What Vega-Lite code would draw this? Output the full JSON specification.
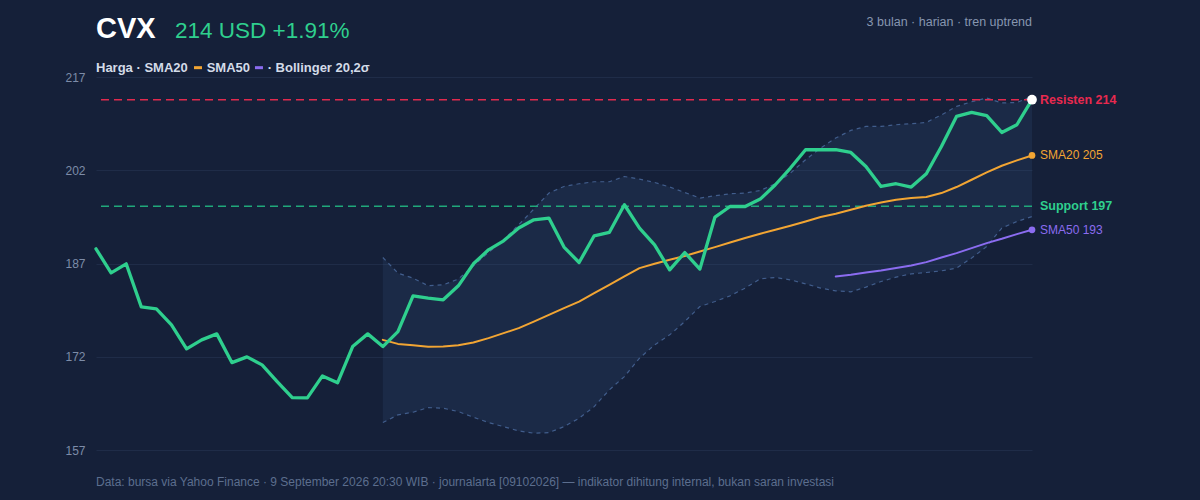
{
  "$schema": "https://vega.github.io/schema/vega-lite/v6.json",
  "width": 936,
  "height": 373,
  "autosize": {"type": "none"},
  "padding": {"left": 96, "top": 77, "right": 168, "bottom": 50},
  "background": "#152039",
  "config": {
    "view": {"stroke": null},
    "font": "Liberation Sans",
    "text": {"font": "Liberation Sans"},
    "line": {"strokeJoin": "round", "strokeCap": "round"},
    "axisY": {
      "domain": false, "ticks": false, "grid": true, "gridColor": "#1f2c48", "gridWidth": 1,
      "labelColor": "#7d8ca8", "labelFontSize": 12, "labelPadding": 11, "labelFont": "Liberation Sans"
    }
  },
  "data": {
    "values": [
      {"i": 0, "price": 189.36, "sma20": null, "upper": null, "lower": null, "sma50": null},
      {"i": 1, "price": 185.5, "sma20": null, "upper": null, "lower": null, "sma50": null},
      {"i": 2, "price": 186.95, "sma20": null, "upper": null, "lower": null, "sma50": null},
      {"i": 3, "price": 180.03, "sma20": null, "upper": null, "lower": null, "sma50": null},
      {"i": 4, "price": 179.7, "sma20": null, "upper": null, "lower": null, "sma50": null},
      {"i": 5, "price": 177.13, "sma20": null, "upper": null, "lower": null, "sma50": null},
      {"i": 6, "price": 173.27, "sma20": null, "upper": null, "lower": null, "sma50": null},
      {"i": 7, "price": 174.72, "sma20": null, "upper": null, "lower": null, "sma50": null},
      {"i": 8, "price": 175.68, "sma20": null, "upper": null, "lower": null, "sma50": null},
      {"i": 9, "price": 171.06, "sma20": null, "upper": null, "lower": null, "sma50": null},
      {"i": 10, "price": 171.98, "sma20": null, "upper": null, "lower": null, "sma50": null},
      {"i": 11, "price": 170.69, "sma20": null, "upper": null, "lower": null, "sma50": null},
      {"i": 12, "price": 168.01, "sma20": null, "upper": null, "lower": null, "sma50": null},
      {"i": 13, "price": 165.43, "sma20": null, "upper": null, "lower": null, "sma50": null},
      {"i": 14, "price": 165.38, "sma20": null, "upper": null, "lower": null, "sma50": null},
      {"i": 15, "price": 168.92, "sma20": null, "upper": null, "lower": null, "sma50": null},
      {"i": 16, "price": 167.8, "sma20": null, "upper": null, "lower": null, "sma50": null},
      {"i": 17, "price": 173.64, "sma20": null, "upper": null, "lower": null, "sma50": null},
      {"i": 18, "price": 175.68, "sma20": null, "upper": null, "lower": null, "sma50": null},
      {"i": 19, "price": 173.64, "sma20": 174.72, "upper": 187.96, "lower": 161.41, "sma50": null},
      {"i": 20, "price": 176.05, "sma20": 174.07, "upper": 185.45, "lower": 162.65, "sma50": null},
      {"i": 21, "price": 181.8, "sma20": 173.86, "upper": 184.65, "lower": 163.08, "sma50": null},
      {"i": 22, "price": 181.43, "sma20": 173.59, "upper": 183.41, "lower": 163.82, "sma50": null},
      {"i": 23, "price": 181.16, "sma20": 173.64, "upper": 183.57, "lower": 163.72, "sma50": null},
      {"i": 24, "price": 183.41, "sma20": 173.86, "upper": 184.49, "lower": 163.18, "sma50": null},
      {"i": 25, "price": 186.95, "sma20": 174.28, "upper": 186.63, "lower": 162.28, "sma50": null},
      {"i": 26, "price": 189.2, "sma20": 174.99, "upper": 188.77, "lower": 161.41, "sma50": null},
      {"i": 27, "price": 190.65, "sma20": 175.8, "upper": 190.81, "lower": 160.76, "sma50": null},
      {"i": 28, "price": 192.7, "sma20": 176.6, "upper": 193.23, "lower": 160.07, "sma50": null},
      {"i": 29, "price": 194.03, "sma20": 177.66, "upper": 195.75, "lower": 159.7, "sma50": null},
      {"i": 30, "price": 194.31, "sma20": 178.74, "upper": 198.33, "lower": 159.8, "sma50": null},
      {"i": 31, "price": 189.64, "sma20": 179.82, "upper": 199.39, "lower": 160.76, "sma50": null},
      {"i": 32, "price": 187.16, "sma20": 180.88, "upper": 199.83, "lower": 162.11, "sma50": null},
      {"i": 33, "price": 191.46, "sma20": 182.23, "upper": 200.15, "lower": 163.98, "sma50": null},
      {"i": 34, "price": 191.99, "sma20": 183.57, "upper": 200.15, "lower": 166.67, "sma50": null},
      {"i": 35, "price": 196.45, "sma20": 184.91, "upper": 201.0, "lower": 168.81, "sma50": null},
      {"i": 36, "price": 192.7, "sma20": 186.26, "upper": 200.58, "lower": 171.77, "sma50": null},
      {"i": 37, "price": 190.01, "sma20": 186.95, "upper": 200.04, "lower": 173.91, "sma50": null},
      {"i": 38, "price": 185.98, "sma20": 187.59, "upper": 199.3, "lower": 175.52, "sma50": null},
      {"i": 39, "price": 188.77, "sma20": 188.2, "upper": 198.43, "lower": 177.66, "sma50": null},
      {"i": 40, "price": 186.1, "sma20": 188.93, "upper": 197.52, "lower": 180.08, "sma50": null},
      {"i": 41, "price": 194.47, "sma20": 189.64, "upper": 197.9, "lower": 180.88, "sma50": null},
      {"i": 42, "price": 196.17, "sma20": 190.38, "upper": 198.22, "lower": 181.8, "sma50": null},
      {"i": 43, "price": 196.17, "sma20": 191.09, "upper": 198.33, "lower": 183.04, "sma50": null},
      {"i": 44, "price": 197.36, "sma20": 191.78, "upper": 198.75, "lower": 184.54, "sma50": null},
      {"i": 45, "price": 199.67, "sma20": 192.42, "upper": 199.83, "lower": 184.75, "sma50": null},
      {"i": 46, "price": 202.35, "sma20": 193.07, "upper": 201.55, "lower": 184.37, "sma50": null},
      {"i": 47, "price": 205.3, "sma20": 193.76, "upper": 203.69, "lower": 183.73, "sma50": null},
      {"i": 48, "price": 205.3, "sma20": 194.47, "upper": 205.57, "lower": 183.04, "sma50": null},
      {"i": 49, "price": 205.3, "sma20": 195.0, "upper": 207.18, "lower": 182.6, "sma50": 184.91},
      {"i": 50, "price": 204.86, "sma20": 195.64, "upper": 208.41, "lower": 182.44, "sma50": 185.18},
      {"i": 51, "price": 202.61, "sma20": 196.29, "upper": 209.05, "lower": 183.2, "sma50": 185.55},
      {"i": 52, "price": 199.39, "sma20": 196.82, "upper": 209.05, "lower": 184.1, "sma50": 185.87},
      {"i": 53, "price": 199.83, "sma20": 197.25, "upper": 209.32, "lower": 184.81, "sma50": 186.26},
      {"i": 54, "price": 199.3, "sma20": 197.52, "upper": 209.48, "lower": 185.34, "sma50": 186.68},
      {"i": 55, "price": 201.44, "sma20": 197.69, "upper": 209.69, "lower": 185.55, "sma50": 187.22},
      {"i": 56, "price": 205.83, "sma20": 198.33, "upper": 210.9, "lower": 185.82, "sma50": 187.96},
      {"i": 57, "price": 210.66, "sma20": 199.3, "upper": 212.27, "lower": 186.26, "sma50": 188.67},
      {"i": 58, "price": 211.3, "sma20": 200.47, "upper": 213.02, "lower": 187.87, "sma50": 189.48},
      {"i": 59, "price": 210.77, "sma20": 201.65, "upper": 213.62, "lower": 189.74, "sma50": 190.28},
      {"i": 60, "price": 208.08, "sma20": 202.72, "upper": 212.82, "lower": 192.7, "sma50": 190.97},
      {"i": 61, "price": 209.32, "sma20": 203.58, "upper": 212.91, "lower": 193.76, "sma50": 191.73},
      {"i": 62, "price": 213.35, "sma20": 204.38, "upper": 213.88, "lower": 194.56, "sma50": 192.42}
    ]
  },
  "layer": [
    {
      "mark": {"type": "line", "opacity": 0},
      "encoding": {
        "x": {"field": "i", "type": "quantitative", "scale": {"domain": [0, 62], "nice": false, "zero": false}, "axis": null},
        "y": {
          "field": "price", "type": "quantitative", "title": null,
          "scale": {"domain": [157, 217], "nice": false, "zero": false},
          "axis": {"values": [157, 172, 187, 202, 217], "title": null}
        }
      }
    },
    {
      "mark": {"type": "area", "color": "#385784", "opacity": 0.2},
      "encoding": {
        "x": {"field": "i", "type": "quantitative", "axis": null},
        "y": {"field": "lower", "type": "quantitative", "title": null},
        "y2": {"field": "upper"}
      }
    },
    {
      "mark": {"type": "line", "color": "#415d8c", "strokeWidth": 1.2, "strokeDash": [4, 4], "strokeCap": "butt"},
      "encoding": {
        "x": {"field": "i", "type": "quantitative", "axis": null},
        "y": {"field": "upper", "type": "quantitative", "title": null}
      }
    },
    {
      "mark": {"type": "line", "color": "#415d8c", "strokeWidth": 1.2, "strokeDash": [4, 4], "strokeCap": "butt"},
      "encoding": {
        "x": {"field": "i", "type": "quantitative", "axis": null},
        "y": {"field": "lower", "type": "quantitative", "title": null}
      }
    },
    {
      "data": {"values": [{}]},
      "mark": {"type": "rule", "color": "#e02a4e", "strokeWidth": 1.6, "strokeDash": [8, 5]},
      "encoding": {"y": {"datum": 213.35, "type": "quantitative", "title": null}}
    },
    {
      "data": {"values": [{}]},
      "mark": {"type": "rule", "color": "#20a87b", "strokeWidth": 1.6, "strokeDash": [8, 5]},
      "encoding": {"y": {"datum": 196.2, "type": "quantitative", "title": null}}
    },
    {
      "mark": {"type": "line", "color": "#8b6cf0", "strokeWidth": 2},
      "encoding": {
        "x": {"field": "i", "type": "quantitative", "axis": null},
        "y": {"field": "sma50", "type": "quantitative", "title": null}
      }
    },
    {
      "mark": {"type": "line", "color": "#f2a533", "strokeWidth": 2},
      "encoding": {
        "x": {"field": "i", "type": "quantitative", "axis": null},
        "y": {"field": "sma20", "type": "quantitative", "title": null}
      }
    },
    {
      "mark": {"type": "line", "color": "#2fcf8e", "strokeWidth": 3.3},
      "encoding": {
        "x": {"field": "i", "type": "quantitative", "axis": null},
        "y": {"field": "price", "type": "quantitative", "title": null}
      }
    },
    {
      "transform": [{"filter": "datum.i == 62"}],
      "mark": {"type": "point", "filled": true, "opacity": 1, "color": "#8b6cf0", "size": 45},
      "encoding": {
        "x": {"field": "i", "type": "quantitative", "axis": null},
        "y": {"field": "sma50", "type": "quantitative", "title": null}
      }
    },
    {
      "transform": [{"filter": "datum.i == 62"}],
      "mark": {"type": "point", "filled": true, "opacity": 1, "color": "#f2a533", "size": 45},
      "encoding": {
        "x": {"field": "i", "type": "quantitative", "axis": null},
        "y": {"field": "sma20", "type": "quantitative", "title": null}
      }
    },
    {
      "transform": [{"filter": "datum.i == 62"}],
      "mark": {"type": "point", "filled": true, "opacity": 1, "color": "#ffffff", "size": 95},
      "encoding": {
        "x": {"field": "i", "type": "quantitative", "axis": null},
        "y": {"field": "price", "type": "quantitative", "title": null}
      }
    },
    {
      "data": {"values": [{}]},
      "mark": {"type": "text", "align": "left", "baseline": "middle", "dx": 8, "fontSize": 12.5, "fontWeight": "bold", "color": "#e8294f"},
      "encoding": {
        "x": {"datum": 62, "type": "quantitative", "axis": null},
        "y": {"datum": 213.35, "type": "quantitative", "title": null},
        "text": {"value": "Resisten 214"}
      }
    },
    {
      "data": {"values": [{}]},
      "mark": {"type": "text", "align": "left", "baseline": "middle", "dx": 8, "fontSize": 12, "color": "#f2a533"},
      "encoding": {
        "x": {"datum": 62, "type": "quantitative", "axis": null},
        "y": {"datum": 204.38, "type": "quantitative", "title": null},
        "text": {"value": "SMA20 205"}
      }
    },
    {
      "data": {"values": [{}]},
      "mark": {"type": "text", "align": "left", "baseline": "middle", "dx": 8, "fontSize": 12.5, "fontWeight": "bold", "color": "#2fcf8e"},
      "encoding": {
        "x": {"datum": 62, "type": "quantitative", "axis": null},
        "y": {"datum": 196.2, "type": "quantitative", "title": null},
        "text": {"value": "Support 197"}
      }
    },
    {
      "data": {"values": [{}]},
      "mark": {"type": "text", "align": "left", "baseline": "middle", "dx": 8, "fontSize": 12, "color": "#8b6cf0"},
      "encoding": {
        "x": {"datum": 62, "type": "quantitative", "axis": null},
        "y": {"datum": 192.42, "type": "quantitative", "title": null},
        "text": {"value": "SMA50 193"}
      }
    },
    {
      "data": {"values": [{}]},
      "mark": {"type": "text", "align": "left", "baseline": "alphabetic", "fontSize": 29, "fontWeight": "bold", "color": "#ffffff"},
      "encoding": {
        "x": {"datum": 0, "type": "quantitative", "axis": null},
        "y": {"datum": 223.27, "type": "quantitative", "title": null},
        "text": {"value": "CVX"}
      }
    },
    {
      "data": {"values": [{}]},
      "mark": {"type": "text", "align": "left", "baseline": "alphabetic", "fontSize": 22.5, "color": "#2fcf8e"},
      "encoding": {
        "x": {"datum": 5.23, "type": "quantitative", "axis": null},
        "y": {"datum": 223.27, "type": "quantitative", "title": null},
        "text": {"value": "214 USD +1.91%"}
      }
    },
    {
      "data": {"values": [{}]},
      "mark": {"type": "text", "align": "right", "baseline": "alphabetic", "fontSize": 12.5, "color": "#8796b0"},
      "encoding": {
        "x": {"datum": 62, "type": "quantitative", "axis": null},
        "y": {"datum": 225.2, "type": "quantitative", "title": null},
        "text": {"value": "3 bulan · harian · tren uptrend"}
      }
    },
    {
      "data": {"values": [{}]},
      "mark": {"type": "text", "align": "left", "baseline": "alphabetic", "fontSize": 13, "fontWeight": "bold", "color": "#d3dbe8"},
      "encoding": {
        "x": {"datum": 0, "type": "quantitative", "axis": null},
        "y": {"datum": 217.8, "type": "quantitative", "title": null},
        "text": {"value": "Harga · SMA20"}
      }
    },
    {
      "data": {"values": [{}]},
      "mark": {"type": "rule", "color": "#f2a533", "strokeWidth": 3},
      "encoding": {
        "x": {"datum": 6.49, "type": "quantitative", "axis": null},
        "x2": {"datum": 7.02},
        "y": {"datum": 218.5, "type": "quantitative", "title": null}
      }
    },
    {
      "data": {"values": [{}]},
      "mark": {"type": "text", "align": "left", "baseline": "alphabetic", "fontSize": 13, "fontWeight": "bold", "color": "#d3dbe8"},
      "encoding": {
        "x": {"datum": 7.33, "type": "quantitative", "axis": null},
        "y": {"datum": 217.8, "type": "quantitative", "title": null},
        "text": {"value": "SMA50"}
      }
    },
    {
      "data": {"values": [{}]},
      "mark": {"type": "rule", "color": "#8b6cf0", "strokeWidth": 3},
      "encoding": {
        "x": {"datum": 10.53, "type": "quantitative", "axis": null},
        "x2": {"datum": 11.06},
        "y": {"datum": 218.5, "type": "quantitative", "title": null}
      }
    },
    {
      "data": {"values": [{}]},
      "mark": {"type": "text", "align": "left", "baseline": "alphabetic", "fontSize": 13, "fontWeight": "bold", "color": "#d3dbe8"},
      "encoding": {
        "x": {"datum": 11.37, "type": "quantitative", "axis": null},
        "y": {"datum": 217.8, "type": "quantitative", "title": null},
        "text": {"value": "· Bollinger 20,2σ"}
      }
    },
    {
      "data": {"values": [{}]},
      "mark": {"type": "text", "align": "left", "baseline": "alphabetic", "fontSize": 12, "color": "#5c6e8e"},
      "encoding": {
        "x": {"datum": 0, "type": "quantitative", "axis": null},
        "y": {"datum": 151.21, "type": "quantitative", "title": null},
        "text": {"value": "Data: bursa via Yahoo Finance · 9 September 2026 20:30 WIB · journalarta [09102026] — indikator dihitung internal, bukan saran investasi"}
      }
    }
  ]
}
